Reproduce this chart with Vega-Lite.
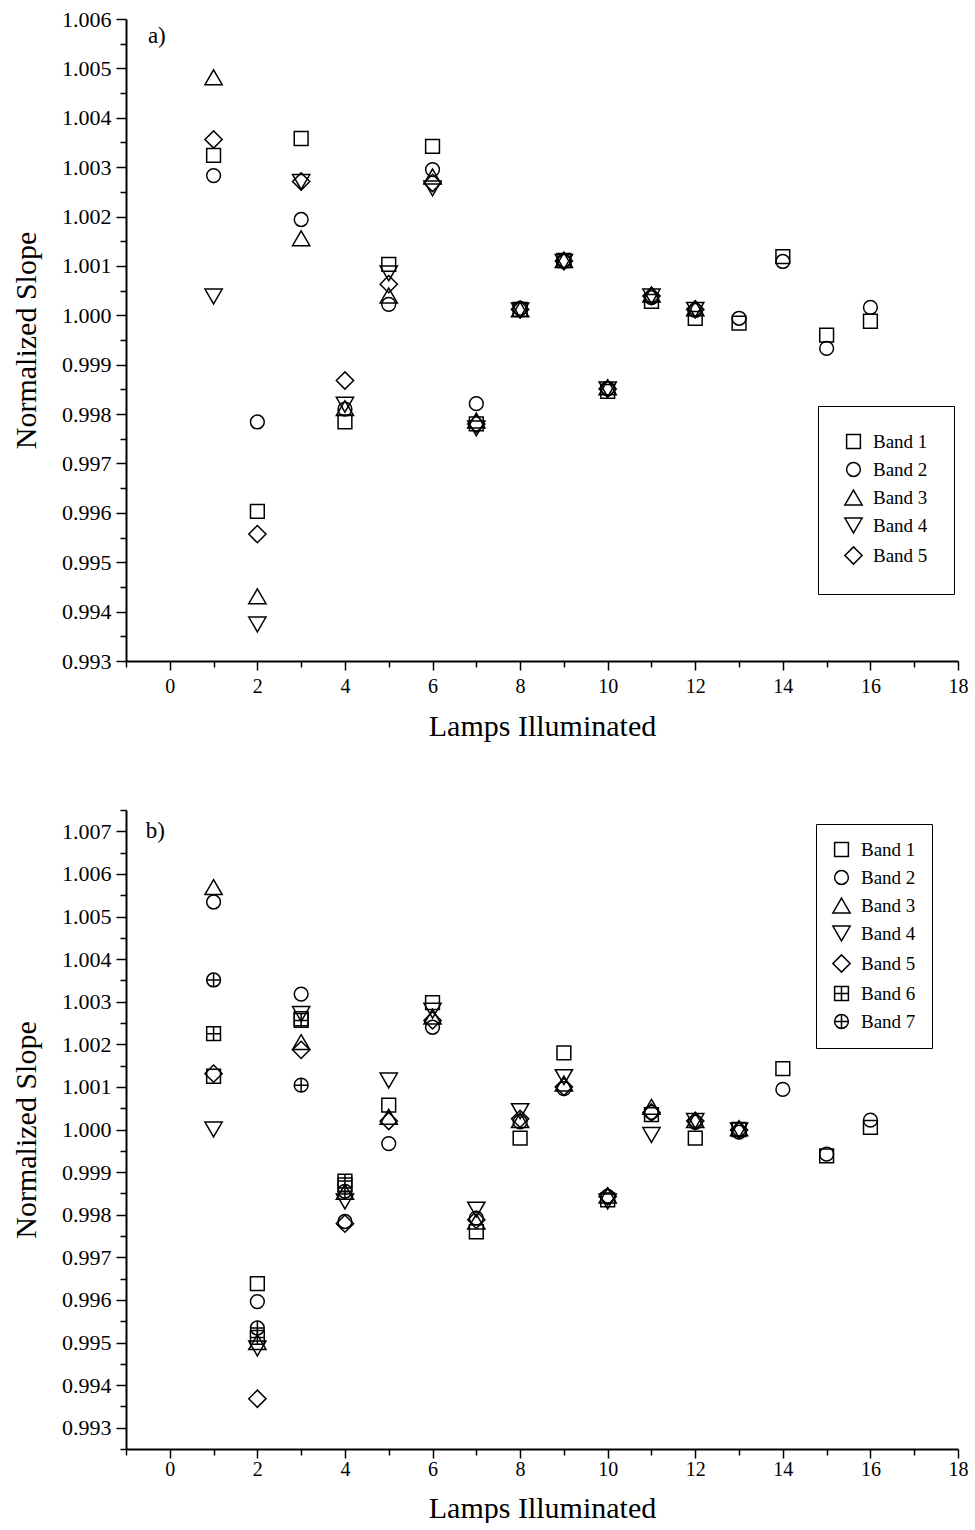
{
  "$schema": "https://vega.github.io/schema/vega-lite/v6.json",
  "background": "white",
  "padding": {"left": 11, "top": 8, "right": 8, "bottom": 0},
  "spacing": 58,
  "config": {
    "font": "Liberation Serif",
    "view": {"stroke": null},
    "axis": {"grid": false, "domainColor": "black", "domainWidth": 2, "tickColor": "black", "tickWidth": 1.5, "labelColor": "black", "titleColor": "black", "labelFont": "Liberation Serif", "titleFont": "Liberation Serif", "titleFontWeight": "normal", "labelOverlap": false, "labelFlush": false}
  },
  "resolve": {"scale": {"shape": "independent"}, "legend": {"shape": "independent"}},
  "datasets": {
    "slopes": [
      {"panel": "a", "band": "Band 1", "lamps": 1, "slope": 1.00324},
      {"panel": "a", "band": "Band 1", "lamps": 2, "slope": 0.99603},
      {"panel": "a", "band": "Band 1", "lamps": 3, "slope": 1.00358},
      {"panel": "a", "band": "Band 1", "lamps": 4, "slope": 0.99784},
      {"panel": "a", "band": "Band 1", "lamps": 5, "slope": 1.00103},
      {"panel": "a", "band": "Band 1", "lamps": 6, "slope": 1.00342},
      {"panel": "a", "band": "Band 1", "lamps": 7, "slope": 0.9978},
      {"panel": "a", "band": "Band 1", "lamps": 8, "slope": 1.00012},
      {"panel": "a", "band": "Band 1", "lamps": 9, "slope": 1.00111},
      {"panel": "a", "band": "Band 1", "lamps": 10, "slope": 0.99846},
      {"panel": "a", "band": "Band 1", "lamps": 11, "slope": 1.00028},
      {"panel": "a", "band": "Band 1", "lamps": 12, "slope": 0.99994},
      {"panel": "a", "band": "Band 1", "lamps": 13, "slope": 0.99984},
      {"panel": "a", "band": "Band 1", "lamps": 14, "slope": 1.00119},
      {"panel": "a", "band": "Band 1", "lamps": 15, "slope": 0.9996},
      {"panel": "a", "band": "Band 1", "lamps": 16, "slope": 0.99988},
      {"panel": "a", "band": "Band 2", "lamps": 1, "slope": 1.00283},
      {"panel": "a", "band": "Band 2", "lamps": 2, "slope": 0.99784},
      {"panel": "a", "band": "Band 2", "lamps": 3, "slope": 1.00194},
      {"panel": "a", "band": "Band 2", "lamps": 4, "slope": 0.9981},
      {"panel": "a", "band": "Band 2", "lamps": 5, "slope": 1.00022},
      {"panel": "a", "band": "Band 2", "lamps": 6, "slope": 1.00295},
      {"panel": "a", "band": "Band 2", "lamps": 7, "slope": 0.99821},
      {"panel": "a", "band": "Band 2", "lamps": 8, "slope": 1.00014},
      {"panel": "a", "band": "Band 2", "lamps": 9, "slope": 1.0011},
      {"panel": "a", "band": "Band 2", "lamps": 10, "slope": 0.99852},
      {"panel": "a", "band": "Band 2", "lamps": 11, "slope": 1.00036},
      {"panel": "a", "band": "Band 2", "lamps": 12, "slope": 1.0001},
      {"panel": "a", "band": "Band 2", "lamps": 13, "slope": 0.99994},
      {"panel": "a", "band": "Band 2", "lamps": 14, "slope": 1.00109},
      {"panel": "a", "band": "Band 2", "lamps": 15, "slope": 0.99933},
      {"panel": "a", "band": "Band 2", "lamps": 16, "slope": 1.00016},
      {"panel": "a", "band": "Band 3", "lamps": 1, "slope": 1.00482},
      {"panel": "a", "band": "Band 3", "lamps": 2, "slope": 0.99431},
      {"panel": "a", "band": "Band 3", "lamps": 3, "slope": 1.00156},
      {"panel": "a", "band": "Band 3", "lamps": 4, "slope": 0.99812},
      {"panel": "a", "band": "Band 3", "lamps": 5, "slope": 1.0004},
      {"panel": "a", "band": "Band 3", "lamps": 6, "slope": 1.00281},
      {"panel": "a", "band": "Band 3", "lamps": 7, "slope": 0.99787},
      {"panel": "a", "band": "Band 3", "lamps": 8, "slope": 1.00012},
      {"panel": "a", "band": "Band 3", "lamps": 9, "slope": 1.00112},
      {"panel": "a", "band": "Band 3", "lamps": 10, "slope": 0.99854},
      {"panel": "a", "band": "Band 3", "lamps": 11, "slope": 1.00042},
      {"panel": "a", "band": "Band 3", "lamps": 12, "slope": 1.00014},
      {"panel": "a", "band": "Band 4", "lamps": 1, "slope": 1.00038},
      {"panel": "a", "band": "Band 4", "lamps": 2, "slope": 0.99374},
      {"panel": "a", "band": "Band 4", "lamps": 3, "slope": 1.0027},
      {"panel": "a", "band": "Band 4", "lamps": 4, "slope": 0.99819},
      {"panel": "a", "band": "Band 4", "lamps": 5, "slope": 1.00085},
      {"panel": "a", "band": "Band 4", "lamps": 6, "slope": 1.00257},
      {"panel": "a", "band": "Band 4", "lamps": 7, "slope": 0.99771},
      {"panel": "a", "band": "Band 4", "lamps": 8, "slope": 1.0001},
      {"panel": "a", "band": "Band 4", "lamps": 9, "slope": 1.00108},
      {"panel": "a", "band": "Band 4", "lamps": 10, "slope": 0.9985},
      {"panel": "a", "band": "Band 4", "lamps": 11, "slope": 1.00038},
      {"panel": "a", "band": "Band 4", "lamps": 12, "slope": 1.00011},
      {"panel": "a", "band": "Band 5", "lamps": 1, "slope": 1.00356},
      {"panel": "a", "band": "Band 5", "lamps": 2, "slope": 0.99557},
      {"panel": "a", "band": "Band 5", "lamps": 3, "slope": 1.00271},
      {"panel": "a", "band": "Band 5", "lamps": 4, "slope": 0.99868},
      {"panel": "a", "band": "Band 5", "lamps": 5, "slope": 1.00063},
      {"panel": "a", "band": "Band 5", "lamps": 6, "slope": 1.00268},
      {"panel": "a", "band": "Band 5", "lamps": 7, "slope": 0.9978},
      {"panel": "a", "band": "Band 5", "lamps": 8, "slope": 1.00012},
      {"panel": "a", "band": "Band 5", "lamps": 9, "slope": 1.0011},
      {"panel": "a", "band": "Band 5", "lamps": 10, "slope": 0.99851},
      {"panel": "a", "band": "Band 5", "lamps": 11, "slope": 1.00039},
      {"panel": "a", "band": "Band 5", "lamps": 12, "slope": 1.00012},
      {"panel": "b", "band": "Band 1", "lamps": 1, "slope": 1.00125},
      {"panel": "b", "band": "Band 1", "lamps": 2, "slope": 0.99638},
      {"panel": "b", "band": "Band 1", "lamps": 3, "slope": 1.0026},
      {"panel": "b", "band": "Band 1", "lamps": 4, "slope": 0.9987},
      {"panel": "b", "band": "Band 1", "lamps": 5, "slope": 1.00057},
      {"panel": "b", "band": "Band 1", "lamps": 6, "slope": 1.00298},
      {"panel": "b", "band": "Band 1", "lamps": 7, "slope": 0.9976},
      {"panel": "b", "band": "Band 1", "lamps": 8, "slope": 0.9998},
      {"panel": "b", "band": "Band 1", "lamps": 9, "slope": 1.0018},
      {"panel": "b", "band": "Band 1", "lamps": 10, "slope": 0.99835},
      {"panel": "b", "band": "Band 1", "lamps": 11, "slope": 1.00035},
      {"panel": "b", "band": "Band 1", "lamps": 12, "slope": 0.9998},
      {"panel": "b", "band": "Band 1", "lamps": 13, "slope": 1.0},
      {"panel": "b", "band": "Band 1", "lamps": 14, "slope": 1.00143},
      {"panel": "b", "band": "Band 1", "lamps": 15, "slope": 0.99938},
      {"panel": "b", "band": "Band 1", "lamps": 16, "slope": 1.00005},
      {"panel": "b", "band": "Band 2", "lamps": 1, "slope": 1.00534},
      {"panel": "b", "band": "Band 2", "lamps": 2, "slope": 0.99596},
      {"panel": "b", "band": "Band 2", "lamps": 3, "slope": 1.00318},
      {"panel": "b", "band": "Band 2", "lamps": 4, "slope": 0.99784},
      {"panel": "b", "band": "Band 2", "lamps": 5, "slope": 0.99967},
      {"panel": "b", "band": "Band 2", "lamps": 6, "slope": 1.0024},
      {"panel": "b", "band": "Band 2", "lamps": 7, "slope": 0.99792},
      {"panel": "b", "band": "Band 2", "lamps": 8, "slope": 1.00018},
      {"panel": "b", "band": "Band 2", "lamps": 9, "slope": 1.00096},
      {"panel": "b", "band": "Band 2", "lamps": 10, "slope": 0.99843},
      {"panel": "b", "band": "Band 2", "lamps": 11, "slope": 1.0004},
      {"panel": "b", "band": "Band 2", "lamps": 12, "slope": 1.00017},
      {"panel": "b", "band": "Band 2", "lamps": 13, "slope": 0.99994},
      {"panel": "b", "band": "Band 2", "lamps": 14, "slope": 1.00094},
      {"panel": "b", "band": "Band 2", "lamps": 15, "slope": 0.99942},
      {"panel": "b", "band": "Band 2", "lamps": 16, "slope": 1.00022},
      {"panel": "b", "band": "Band 3", "lamps": 1, "slope": 1.00569},
      {"panel": "b", "band": "Band 3", "lamps": 2, "slope": 0.99501},
      {"panel": "b", "band": "Band 3", "lamps": 3, "slope": 1.00205},
      {"panel": "b", "band": "Band 3", "lamps": 4, "slope": 0.99854},
      {"panel": "b", "band": "Band 3", "lamps": 5, "slope": 1.0003},
      {"panel": "b", "band": "Band 3", "lamps": 6, "slope": 1.00265},
      {"panel": "b", "band": "Band 3", "lamps": 7, "slope": 0.99784},
      {"panel": "b", "band": "Band 3", "lamps": 8, "slope": 1.00022},
      {"panel": "b", "band": "Band 3", "lamps": 9, "slope": 1.00108},
      {"panel": "b", "band": "Band 3", "lamps": 10, "slope": 0.99845},
      {"panel": "b", "band": "Band 3", "lamps": 11, "slope": 1.00053},
      {"panel": "b", "band": "Band 3", "lamps": 12, "slope": 1.00022},
      {"panel": "b", "band": "Band 3", "lamps": 13, "slope": 1.00003},
      {"panel": "b", "band": "Band 4", "lamps": 1, "slope": 1.0},
      {"panel": "b", "band": "Band 4", "lamps": 2, "slope": 0.99486},
      {"panel": "b", "band": "Band 4", "lamps": 3, "slope": 1.00271},
      {"panel": "b", "band": "Band 4", "lamps": 4, "slope": 0.99831},
      {"panel": "b", "band": "Band 4", "lamps": 5, "slope": 1.00115},
      {"panel": "b", "band": "Band 4", "lamps": 6, "slope": 1.00279},
      {"panel": "b", "band": "Band 4", "lamps": 7, "slope": 0.99812},
      {"panel": "b", "band": "Band 4", "lamps": 8, "slope": 1.00043},
      {"panel": "b", "band": "Band 4", "lamps": 9, "slope": 1.00123},
      {"panel": "b", "band": "Band 4", "lamps": 10, "slope": 0.99831},
      {"panel": "b", "band": "Band 4", "lamps": 11, "slope": 0.99987},
      {"panel": "b", "band": "Band 4", "lamps": 12, "slope": 1.0002},
      {"panel": "b", "band": "Band 4", "lamps": 13, "slope": 0.99998},
      {"panel": "b", "band": "Band 5", "lamps": 1, "slope": 1.00131},
      {"panel": "b", "band": "Band 5", "lamps": 2, "slope": 0.99368},
      {"panel": "b", "band": "Band 5", "lamps": 3, "slope": 1.00187},
      {"panel": "b", "band": "Band 5", "lamps": 4, "slope": 0.99779},
      {"panel": "b", "band": "Band 5", "lamps": 5, "slope": 1.0002},
      {"panel": "b", "band": "Band 5", "lamps": 6, "slope": 1.00256},
      {"panel": "b", "band": "Band 5", "lamps": 7, "slope": 0.99788},
      {"panel": "b", "band": "Band 5", "lamps": 8, "slope": 1.00025},
      {"panel": "b", "band": "Band 5", "lamps": 9, "slope": 1.001},
      {"panel": "b", "band": "Band 5", "lamps": 10, "slope": 0.99843},
      {"panel": "b", "band": "Band 5", "lamps": 11, "slope": 1.0004},
      {"panel": "b", "band": "Band 5", "lamps": 12, "slope": 1.0002},
      {"panel": "b", "band": "Band 5", "lamps": 13, "slope": 0.99999},
      {"panel": "b", "band": "Band 6", "lamps": 1, "slope": 1.00225},
      {"panel": "b", "band": "Band 6", "lamps": 2, "slope": 0.99512},
      {"panel": "b", "band": "Band 6", "lamps": 3, "slope": 1.00256},
      {"panel": "b", "band": "Band 6", "lamps": 4, "slope": 0.99879},
      {"panel": "b", "band": "Band 7", "lamps": 1, "slope": 1.00351},
      {"panel": "b", "band": "Band 7", "lamps": 2, "slope": 0.99534},
      {"panel": "b", "band": "Band 7", "lamps": 3, "slope": 1.00104},
      {"panel": "b", "band": "Band 7", "lamps": 4, "slope": 0.99855}
    ]
  },
  "vconcat": [
    {
      "width": 832,
      "height": 642,
      "layer": [
        {
          "data": {"name": "slopes"},
          "transform": [{"filter": "datum.panel === 'a'"}],
          "mark": {"type": "point", "filled": false, "color": "black", "stroke": "black", "strokeWidth": 1.5, "size": 190, "opacity": 1},
          "encoding": {
            "x": {
              "field": "lamps", "type": "quantitative",
              "scale": {"domain": [-1, 18], "nice": false, "zero": false},
              "axis": {
                "title": "Lamps Illuminated", "titleFontSize": 30, "titlePadding": 15,
                "values": [-1, 0, 1, 2, 3, 4, 5, 6, 7, 8, 9, 10, 11, 12, 13, 14, 15, 16, 17, 18],
                "tickCount": 200,
                "format": "d", "labelOverlap": false,
                "labelExpr": "datum.value >= 0 && datum.value % 2 === 0 ? datum.label : ''",
                "labelFontSize": 20, "labelPadding": 6,
                "tickSize": {"condition": {"test": "datum.value % 2 !== 0", "value": 6}, "value": 9}
              }
            },
            "y": {
              "field": "slope", "type": "quantitative",
              "scale": {"domain": [0.993, 1.006], "nice": false, "zero": false},
              "axis": {
                "title": "Normalized Slope", "titleFontSize": 30, "titlePadding": 20,
                "values": [0.993, 0.9935, 0.994, 0.9945, 0.995, 0.9955, 0.996, 0.9965, 0.997, 0.9975, 0.998, 0.9985, 0.999, 0.9995, 1.0, 1.0005, 1.001, 1.0015, 1.002, 1.0025, 1.003, 1.0035, 1.004, 1.0045, 1.005, 1.0055, 1.006],
                "tickCount": 200,
                "labelOverlap": false,
                "labelExpr": "abs(datum.value*1000 - round(datum.value*1000)) < 0.1 ? format(datum.value, '.3f') : ''",
                "labelFontSize": 22, "labelPadding": 5,
                "tickSize": {"condition": {"test": "abs(datum.value*1000 - round(datum.value*1000)) > 0.1", "value": 6}, "value": 10}
              }
            },
            "shape": {
              "field": "band", "type": "nominal",
              "scale": {"domain": ["Band 1", "Band 2", "Band 3", "Band 4", "Band 5"], "range": ["square", "circle", "M0,-1.08L1.25,1.08L-1.25,1.08Z", "M0,1.08L1.25,-1.08L-1.25,-1.08Z", "M-1.25,0L0,-1.25L1.25,0L0,1.25Z"]},
              "legend": {
                "title": null, "orient": "none", "legendX": 692, "legendY": 387,
                "strokeColor": "black", "fillColor": "white", "padding": 26, "rowPadding": 7,
                "labelFontSize": 19, "labelFont": "Liberation Serif", "labelColor": "black", "labelOffset": 10,
                "symbolSize": 190, "symbolStrokeWidth": 1.5, "symbolStrokeColor": "black", "symbolFillColor": "white",
                "encode": {"legend": {"update": {"strokeWidth": {"value": 2}}}}
              }
            }
          }
        },
        {
          "data": {"values": [{}]},
          "mark": {"type": "text", "text": "a)", "fontSize": 23, "align": "left", "baseline": "middle", "font": "Liberation Serif", "color": "black"},
          "encoding": {"x": {"datum": -0.5, "type": "quantitative"}, "y": {"datum": 1.00566, "type": "quantitative"}}
        }
      ]
    },
    {
      "width": 832,
      "height": 639,
      "layer": [
        {
          "data": {"name": "slopes"},
          "transform": [{"filter": "datum.panel === 'b'"}],
          "mark": {"type": "point", "filled": false, "color": "black", "stroke": "black", "strokeWidth": 1.5, "size": 190, "opacity": 1},
          "encoding": {
            "x": {
              "field": "lamps", "type": "quantitative",
              "scale": {"domain": [-1, 18], "nice": false, "zero": false},
              "axis": {
                "title": "Lamps Illuminated", "titleFontSize": 30, "titlePadding": 14,
                "values": [-1, 0, 1, 2, 3, 4, 5, 6, 7, 8, 9, 10, 11, 12, 13, 14, 15, 16, 17, 18],
                "tickCount": 200,
                "format": "d", "labelOverlap": false,
                "labelExpr": "datum.value >= 0 && datum.value % 2 === 0 ? datum.label : ''",
                "labelFontSize": 20, "labelPadding": 1,
                "tickSize": {"condition": {"test": "datum.value % 2 !== 0", "value": 6}, "value": 9}
              }
            },
            "y": {
              "field": "slope", "type": "quantitative",
              "scale": {"domain": [0.9925, 1.0075], "nice": false, "zero": false},
              "axis": {
                "title": "Normalized Slope", "titleFontSize": 30, "titlePadding": 20,
                "values": [0.9925, 0.993, 0.9935, 0.994, 0.9945, 0.995, 0.9955, 0.996, 0.9965, 0.997, 0.9975, 0.998, 0.9985, 0.999, 0.9995, 1.0, 1.0005, 1.001, 1.0015, 1.002, 1.0025, 1.003, 1.0035, 1.004, 1.0045, 1.005, 1.0055, 1.006, 1.0065, 1.007, 1.0075],
                "tickCount": 200,
                "labelOverlap": false,
                "labelExpr": "abs(datum.value*1000 - round(datum.value*1000)) < 0.1 ? format(datum.value, '.3f') : ''",
                "labelFontSize": 22, "labelPadding": 5,
                "tickSize": {"condition": {"test": "abs(datum.value*1000 - round(datum.value*1000)) > 0.1", "value": 6}, "value": 10}
              }
            },
            "shape": {
              "field": "band", "type": "nominal",
              "scale": {"domain": ["Band 1", "Band 2", "Band 3", "Band 4", "Band 5", "Band 6", "Band 7"], "range": ["square", "circle", "M0,-1.08L1.25,1.08L-1.25,1.08Z", "M0,1.08L1.25,-1.08L-1.25,-1.08Z", "M-1.25,0L0,-1.25L1.25,0L0,1.25Z", "M-1,-1L1,-1L1,1L-1,1Z M0,-1L0,1 M-1,0L1,0", "M-1,0A1,1,0,1,1,1,0A1,1,0,1,1,-1,0Z M0,-1L0,1 M-1,0L1,0"]},
              "legend": {
                "title": null, "orient": "none", "legendX": 690, "legendY": 14,
                "strokeColor": "black", "fillColor": "white", "padding": 16, "rowPadding": 7,
                "labelFontSize": 19, "labelFont": "Liberation Serif", "labelColor": "black", "labelOffset": 10,
                "symbolSize": 190, "symbolStrokeWidth": 1.5, "symbolStrokeColor": "black", "symbolFillColor": "white",
                "encode": {"legend": {"update": {"strokeWidth": {"value": 2}}}}
              }
            }
          }
        },
        {
          "data": {"values": [{}]},
          "mark": {"type": "text", "text": "b)", "fontSize": 23, "align": "left", "baseline": "middle", "font": "Liberation Serif", "color": "black"},
          "encoding": {"x": {"datum": -0.55, "type": "quantitative"}, "y": {"datum": 1.007, "type": "quantitative"}}
        }
      ]
    }
  ]
}
